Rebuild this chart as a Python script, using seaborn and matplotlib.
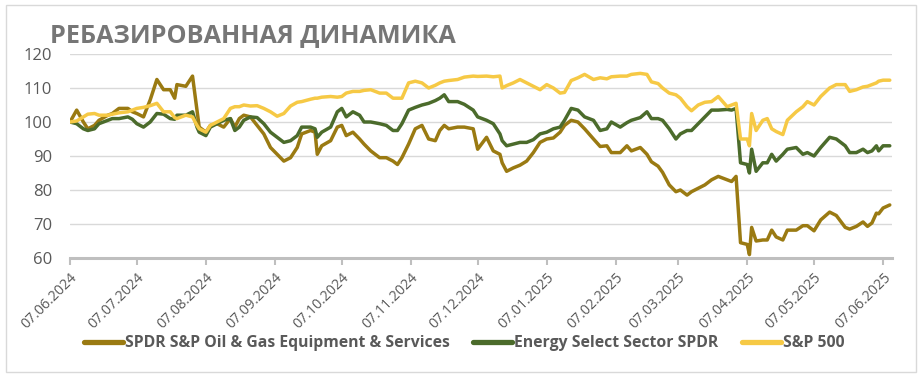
import pandas as pd
import matplotlib.pyplot as plt
from matplotlib.lines import Line2D
from matplotlib.patches import Rectangle
import seaborn as sns

# --- data ---
dates = [
    "2024-06-07", "2024-06-10", "2024-06-13", "2024-06-15", "2024-06-18", "2024-06-20",
    "2024-06-24", "2024-06-26", "2024-06-29", "2024-07-03", "2024-07-05", "2024-07-07",
    "2024-07-10", "2024-07-13", "2024-07-16", "2024-07-19", "2024-07-22", "2024-07-24",
    "2024-07-25", "2024-07-29", "2024-08-01", "2024-08-03", "2024-08-04", "2024-08-07",
    "2024-08-09", "2024-08-12", "2024-08-15", "2024-08-18", "2024-08-20", "2024-08-22",
    "2024-08-24", "2024-08-27", "2024-08-30", "2024-09-02", "2024-09-05", "2024-09-08",
    "2024-09-11", "2024-09-14", "2024-09-17", "2024-09-19", "2024-09-23", "2024-09-25",
    "2024-09-26", "2024-09-28", "2024-10-02", "2024-10-05", "2024-10-07", "2024-10-09",
    "2024-10-12", "2024-10-15", "2024-10-17", "2024-10-20", "2024-10-24", "2024-10-27",
    "2024-10-30", "2024-11-01", "2024-11-03", "2024-11-06", "2024-11-09", "2024-11-12",
    "2024-11-15", "2024-11-18", "2024-11-20", "2024-11-22", "2024-11-24", "2024-11-28",
    "2024-12-01", "2024-12-05", "2024-12-07", "2024-12-11", "2024-12-14", "2024-12-17",
    "2024-12-18", "2024-12-20", "2024-12-23", "2024-12-26", "2024-12-29", "2025-01-01",
    "2025-01-04", "2025-01-07", "2025-01-10", "2025-01-13", "2025-01-15", "2025-01-18",
    "2025-01-21", "2025-01-24", "2025-01-28", "2025-01-31", "2025-02-03", "2025-02-05",
    "2025-02-09", "2025-02-12", "2025-02-14", "2025-02-18", "2025-02-21", "2025-02-23",
    "2025-02-26", "2025-02-28", "2025-03-03", "2025-03-06", "2025-03-08", "2025-03-11",
    "2025-03-13", "2025-03-16", "2025-03-19", "2025-03-22", "2025-03-25", "2025-03-29",
    "2025-03-31", "2025-04-02", "2025-04-04", "2025-04-07", "2025-04-08", "2025-04-09",
    "2025-04-11", "2025-04-14", "2025-04-16", "2025-04-18", "2025-04-20", "2025-04-23",
    "2025-04-25", "2025-04-29", "2025-05-02", "2025-05-04", "2025-05-07", "2025-05-10",
    "2025-05-14", "2025-05-17", "2025-05-21", "2025-05-23", "2025-05-26", "2025-05-29",
    "2025-05-31", "2025-06-02", "2025-06-04", "2025-06-05", "2025-06-07", "2025-06-10",
]

xes = [
    100, 103.5, 100, 98, 99, 100.5, 102, 102.5, 104, 104, 103, 102.5,
    101.5, 106.5, 112.5, 109.5, 109.5, 107, 111, 110.5, 113.5, 103.5, 98.5, 97,
    99, 99.5, 98.5, 101, 98.5, 101, 102, 101.5, 99, 96.5, 92.5, 90.5,
    88.5, 89.5, 92.5, 96.5, 97.5, 97, 90.5, 93, 94.5, 98.5, 99, 96,
    97, 95, 93.5, 91.5, 89.5, 89.5, 88.5, 87.5, 89.5, 93.5, 98, 99,
    95, 94.5, 97.5, 99, 98, 98.5, 98.5, 98, 92, 95.5, 91.5, 90.5,
    88, 85.5, 86.5, 87.3, 88.5, 91, 94, 95, 95.3, 97, 99, 100.5,
    100, 98, 95, 92.8, 93, 91, 91, 93, 91.5, 92.5, 90.5, 88.3,
    87, 85.2, 81.5, 79.5, 80, 78.5, 79.5, 80.5, 81.5, 83, 84, 83,
    82.5, 84, 64.5, 64, 61, 69, 65, 65.3, 65.3, 68.2, 66.2, 65.3,
    68.2, 68.2, 69.5, 69.5, 68, 71.2, 73.5, 72.5, 69, 68.5, 69.3, 70.6,
    69.3, 70.3, 73.2, 73, 74.7, 75.6,
]

xle = [
    100, 99.5, 98, 97.5, 98, 99.5, 100.5, 101, 101, 101.5, 100.8, 99.5,
    98.5, 100, 102.5, 102.3, 101, 100.8, 102, 102, 103, 98.5, 97, 96,
    98.5, 99.5, 100.5, 101, 97.5, 98.5, 100.5, 101.5, 101.3, 99.5, 97, 95.5,
    94, 94.5, 96, 98.5, 98.5, 98, 95.5, 97, 98.5, 103, 104, 101.5,
    103, 102, 100, 100, 99.5, 99, 97.5, 97.5, 99.5, 103.5, 104.3, 105,
    105.5, 106.3, 107, 108, 106, 106, 105.2, 103.5, 101.5, 100.5, 99.5, 96.5,
    94.5, 93, 93.5, 94, 94, 94.8, 96.5, 97, 98, 98.5, 100.5, 104,
    103.5, 101.5, 100.5, 97.5, 98, 100, 98.5, 99.8, 100.5, 101.3, 103, 101,
    101, 100.5, 98, 95, 96.5, 97.5, 97.5, 99.5, 101.5, 103.5, 103.5, 103.7,
    103.5, 104, 88, 87.5, 85, 92, 85.5, 88, 88, 90.5, 88.5, 90.5,
    92, 92.5, 90.5, 91, 90, 92.5, 95.5, 95, 93, 91, 91, 92,
    91, 91.5, 93, 91.5, 93, 93,
]

spx = [
    100, 100.3, 101.5, 102.3, 102.5, 102, 102, 102.3, 102.7, 103, 103.5, 104,
    104.3, 104.8, 105.5, 103, 103, 101.3, 101, 102, 101.5, 99, 98, 97,
    99, 100, 101, 104, 104.5, 104.5, 105, 104.7, 104.8, 104, 103, 101.7,
    102.5, 104.7, 105.8, 106, 106.7, 107, 107, 107.3, 107.5, 107.3, 107.5, 108.5,
    109, 109, 109.3, 109.5, 108.5, 108.5, 107, 107, 107, 111.5, 112, 111.5,
    110, 110.8, 111.5, 112, 112.2, 112.5, 113.2, 113.5, 113.4, 113.5, 113.3, 113.5,
    110, 110.7, 111.5, 112.5, 111.5, 110.5, 109.5, 111, 110, 108.5, 108.7, 112.2,
    113, 114, 112.5, 113, 112.7, 113.3, 113.5, 113.5, 114, 114.3, 114, 111.8,
    111.3, 110, 108.5, 108, 107, 104.5, 103.3, 105, 105.8, 106, 107.5, 104.5,
    105, 105.5, 95, 95, 93, 102.5, 97.5, 100.5, 101, 98, 97.2, 96.3,
    100.5, 103, 104.5, 106, 105, 107.5, 110, 111, 111, 109, 109.5, 110.3,
    110.5, 111, 111.5, 112, 112.3, 112.3,
]

series_names = [
    "SPDR S&P Oil & Gas Equipment & Services",
    "Energy Select Sector SPDR",
    "S&P 500",
]
colors = ["#9A7A12", "#4B6B2B", "#F6C945"]

tick_dates = [
    "2024-06-07", "2024-07-07", "2024-08-07", "2024-09-07", "2024-10-07",
    "2024-11-07", "2024-12-07", "2025-01-07", "2025-02-07", "2025-03-07",
    "2025-04-07", "2025-05-07", "2025-06-07",
]
y_ticks = [60, 70, 80, 90, 100, 110, 120]
title = "РЕБАЗИРОВАННАЯ ДИНАМИКА"

# --- frame ---
df = pd.DataFrame({"date": pd.to_datetime(dates)})
for name, vals in zip(series_names, [xes, xle, spx]):
    df[name] = vals
long_df = df.melt(id_vars="date", var_name="series", value_name="value")

sns.set_theme(style="white")
plt.rcParams["font.family"] = ["Open Sans", "DejaVu Sans"]

fig = plt.figure(figsize=(9.21, 3.77), dpi=100)
ax = fig.add_axes([70 / 921, 1 - 258 / 377, 822 / 921, 204 / 377])

sns.lineplot(data=long_df, x="date", y="value", hue="series",
             hue_order=series_names, palette=colors, linewidth=2.5,
             legend=False, ax=ax)

label_color = "#595959"
ax.set_xlim(pd.Timestamp("2024-06-07"), pd.Timestamp("2025-06-11"))
ax.set_ylim(60, 120)
ax.set_yticks(y_ticks)
ax.set_yticklabels([str(v) for v in y_ticks], fontsize=12, color=label_color)
ax.yaxis.grid(True, color="#D9D9D9", linewidth=1)
ax.xaxis.grid(False)
ax.tick_params(axis="y", length=0, pad=13)

ticks = pd.to_datetime(tick_dates)
ax.set_xticks(ticks)
ax.set_xticklabels([t.strftime("%d.%m.%Y") for t in ticks], rotation=45,
                   ha="right", rotation_mode="anchor", fontsize=10.3,
                   color=label_color)
ax.tick_params(axis="x", direction="out", length=5, width=1.5,
               color="#BFBFBF", pad=4, bottom=True)
ax.set_xlabel("")
ax.set_ylabel("")
for side in ["top", "right", "left"]:
    ax.spines[side].set_visible(False)
ax.spines["bottom"].set_color("#BFBFBF")
ax.spines["bottom"].set_linewidth(2.2)

fig.text(50 / 921, 1 - 36 / 377, title, fontsize=18.2, fontweight="bold",
         color="#767676", va="center", ha="left")

handles = [Line2D([0], [0], color=c, linewidth=3.8) for c in colors]
leg = fig.legend(handles, series_names, loc="center", ncol=3,
                 bbox_to_anchor=(464 / 921, 1 - 343 / 377), frameon=False,
                 handlelength=2.5, handletextpad=0.1, columnspacing=1.5,
                 prop={"size": 11.3, "weight": "bold"})
for t in leg.get_texts():
    t.set_color(label_color)

fig.patches.append(Rectangle((6 / 921, 5 / 377), 910 / 921, 367 / 377,
                             transform=fig.transFigure, fill=False,
                             edgecolor="#D9D9D9", linewidth=1))

fig.savefig("out.png", dpi=100)
